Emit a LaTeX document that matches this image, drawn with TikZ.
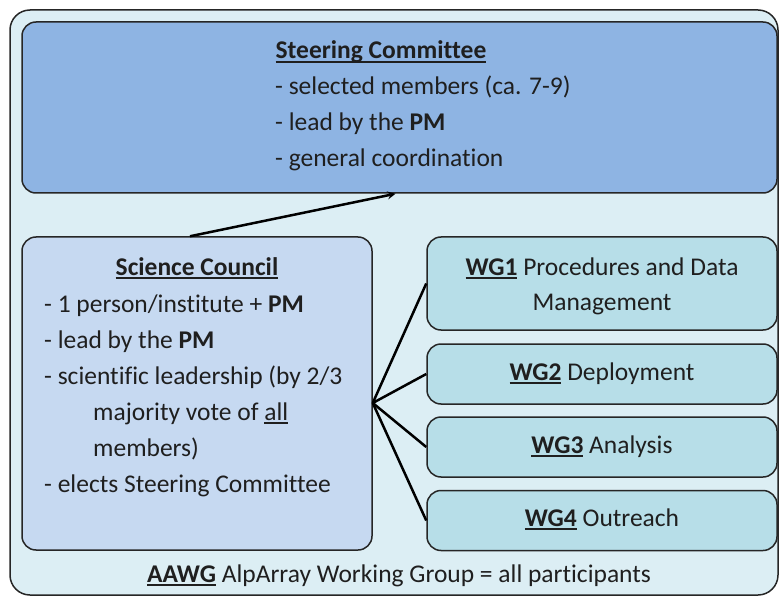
\documentclass[tikz,border=0pt]{standalone}
\usepackage{fontspec}
\setmainfont[Ligatures=NoCommon]{Carlito}
\usetikzlibrary{calc}
\tikzset{>=stealth}

\definecolor{groupbg}{RGB}{220,238,244}
\definecolor{steerfill}{RGB}{142,180,227}
\definecolor{councilfill}{RGB}{198,217,241}
\definecolor{wgfill}{RGB}{183,222,232}

% underline with a thicker rule than \underline gives
\newcommand{\undr}[1]{\setbox0\hbox{#1}\rlap{\rule[-3.8pt]{\wd0}{1.8pt}}\box0}

\begin{document}
\begin{tikzpicture}[x=1pt,y=-1pt,
    box/.style={draw=black!85,line width=1.5pt,rounded corners=14pt,inner sep=0pt},
    txt/.style={text=black!88,inner sep=0pt,font=\fontsize{25.5}{36}\selectfont}]
  \useasboundingbox (0,0) rectangle (779,596);
  % boxes
  \node[box,rounded corners=20pt,fill=groupbg,minimum width=768pt,
        minimum height=585pt] (aawg) at (394,302.5) {};
  \node[box,fill=steerfill,minimum width=755pt,minimum height=171pt]
       (steer) at (399.5,107.5) {};
  \node[box,fill=councilfill,minimum width=350pt,minimum height=313pt]
       (council) at (197,393.5) {};
  \node[box,fill=wgfill,minimum width=350pt,minimum height=93pt]
       (wg1) at (602,283.5) {};
  \node[box,fill=wgfill,minimum width=350pt,minimum height=60pt]
       (wg2) at (602,374) {};
  \node[box,fill=wgfill,minimum width=350pt,minimum height=60pt]
       (wg3) at (602,447) {};
  \node[box,fill=wgfill,minimum width=350pt,minimum height=60pt]
       (wg4) at (602,520.5) {};
  % texts (multi-line ones sit on the baseline of their last line)
  \node[txt,anchor=base] (steertitle) at (381,59)
       {\textbf{\undr{Steering Committee}}};
  \node[txt,anchor=base west,align=left] (steertext) at (275,167)
       {- selected members (ca. 7-9)\\
        - lead by the \textbf{PM}\\
        - general coordination};
  \node[txt,anchor=base] (counciltitle) at (197,275)
       {\textbf{\undr{Science Council}}};
  \node[txt,anchor=base west,align=left] (counciltext) at (44,492)
       {- 1 person/institute + \textbf{PM}\\
        - lead by the \textbf{PM}\\
        - scientific leadership (by 2/3\\
        \hspace*{49pt}majority vote of \undr{all}\\
        \hspace*{49pt}members)\\
        - elects Steering Committee};
  \node[txt,anchor=base,align=center,font=\fontsize{25.5}{35}\selectfont]
       (wg1text) at (602,310)
       {\textbf{\undr{WG1}} Procedures and Data\\Management};
  \node[txt,anchor=base] (wg2text) at (602,380) {\textbf{\undr{WG2}} Deployment};
  \node[txt,anchor=base] (wg3text) at (602,453) {\textbf{\undr{WG3}} Analysis};
  \node[txt,anchor=base] (wg4text) at (602,526) {\textbf{\undr{WG4}} Outreach};
  \node[txt,anchor=base] (aawgtext) at (399,582)
       {\textbf{\undr{AAWG}} AlpArray Working Group = all participants};
  % connectors
  \coordinate (hub) at ($(council.east)+(0,9.5)$);
  \draw[line width=2.5pt,->] ($(council.north)+(-7,0)$) -- ($(steer.south)+(-4,0)$);
  \foreach \wg in {wg1,wg2,wg3,wg4}
    \draw[line width=2.5pt] (hub) -- (\wg.west);
\end{tikzpicture}
\end{document}
